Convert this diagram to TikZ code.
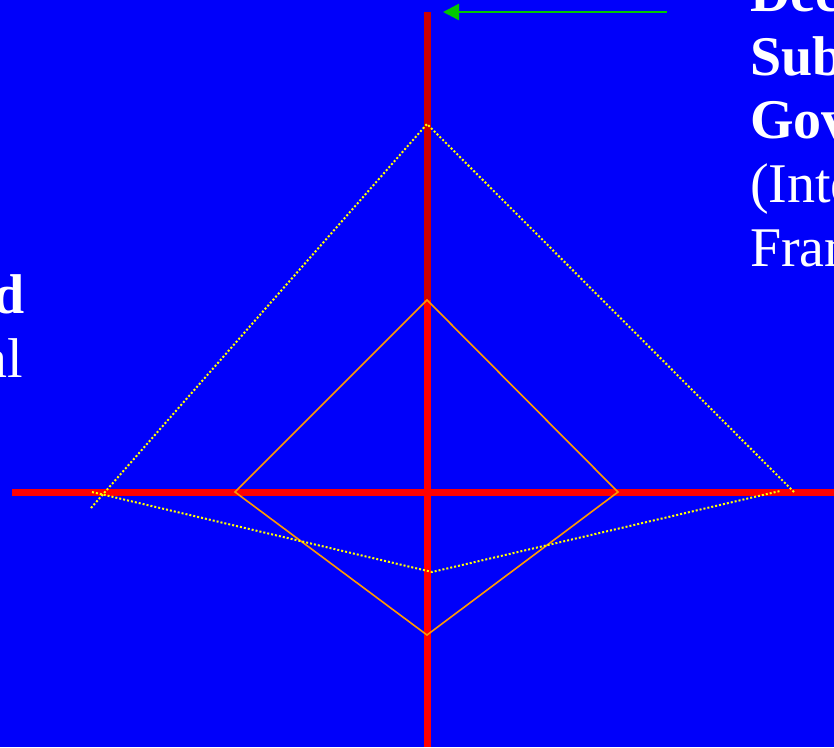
\documentclass[tikz,border=0pt]{standalone}
\usepackage{fontspec}
\setmainfont{Liberation Serif}
\usetikzlibrary{arrows.meta}
\definecolor{bgblue}{RGB}{0,0,250}
\definecolor{darkaxis}{RGB}{204,0,0}
\definecolor{axisred}{RGB}{255,0,0}
\definecolor{diamondorange}{RGB}{255,153,0}
\definecolor{dotyellow}{RGB}{255,255,0}
\definecolor{arrowgreen}{RGB}{0,200,0}
\tikzset{
  axis/.style={line width=7pt, axisred},
  upperaxis/.style={line width=7pt, darkaxis},
  diamondline/.style={line width=1.6pt, diamondorange, line join=miter},
  dotline/.style={line width=2pt, dotyellow, dash pattern=on 2pt off 2pt},
  pointer/.style={line width=2.5pt, arrowgreen, -{Triangle[length=16pt,width=16pt]}},
  bigtext/.style={text=white, font=\fontsize{56pt}{63pt}\selectfont, inner sep=0pt, outer sep=0pt},
}
\begin{document}
\begin{tikzpicture}[x=1pt,y=-1pt]
\useasboundingbox (0,0) rectangle (834,747);
\clip (0,0) rectangle (834,747);
\fill[bgblue] (0,0) rectangle (834,747);
% points
\coordinate (vtop) at (427.5,12);
\coordinate (vmid) at (427.5,300);
\coordinate (vbot) at (427.5,747);
\coordinate (hleft) at (12,492.5);
\coordinate (hright) at (834,492.5);
\coordinate (dtop) at (427,300);
\coordinate (dleft) at (235,492);
\coordinate (dright) at (618,492);
\coordinate (dbot) at (427,635);
\coordinate (yapex) at (427,124);
\coordinate (yleft) at (91,508);
\coordinate (yright) at (794,492);
\coordinate (ybl) at (92,492);
\coordinate (yvalley) at (432,572);
\coordinate (ybr) at (780,491);
\coordinate (gstart) at (667,12);
\coordinate (gend) at (443,12);
% axes
\draw[upperaxis] (vtop) -- (vmid);
\draw[axis] (vmid) -- (vbot);
\draw[axis] (hleft) -- (hright);
% diamond
\draw[diamondline] (dtop) -- (dright) -- (dbot) -- (dleft) -- cycle;
% dotted yellow
\draw[dotline] (yleft) -- (yapex) -- (yright);
\draw[dotline] (ybl) -- (yvalley) -- (ybr);
% arrow
\draw[pointer] (gstart) -- (gend);
% texts right
\node[bigtext, anchor=base west] (t1) at (750,11) {\bfseries Dec};
\node[bigtext, anchor=base west] (t2) at (750,75) {\bfseries Subn};
\node[bigtext, anchor=base west] (t3) at (750,138) {\bfseries Gove};
\node[bigtext, anchor=base west] (t4) at (750,202) {(Inter};
\node[bigtext, anchor=base west] (t5) at (750,266) {Fram};
% texts left
\node[bigtext, anchor=base east] (l1) at (25,313) {\bfseries d};
\node[bigtext, anchor=base east] (l2) at (23,377) {al};
\end{tikzpicture}
\end{document}
